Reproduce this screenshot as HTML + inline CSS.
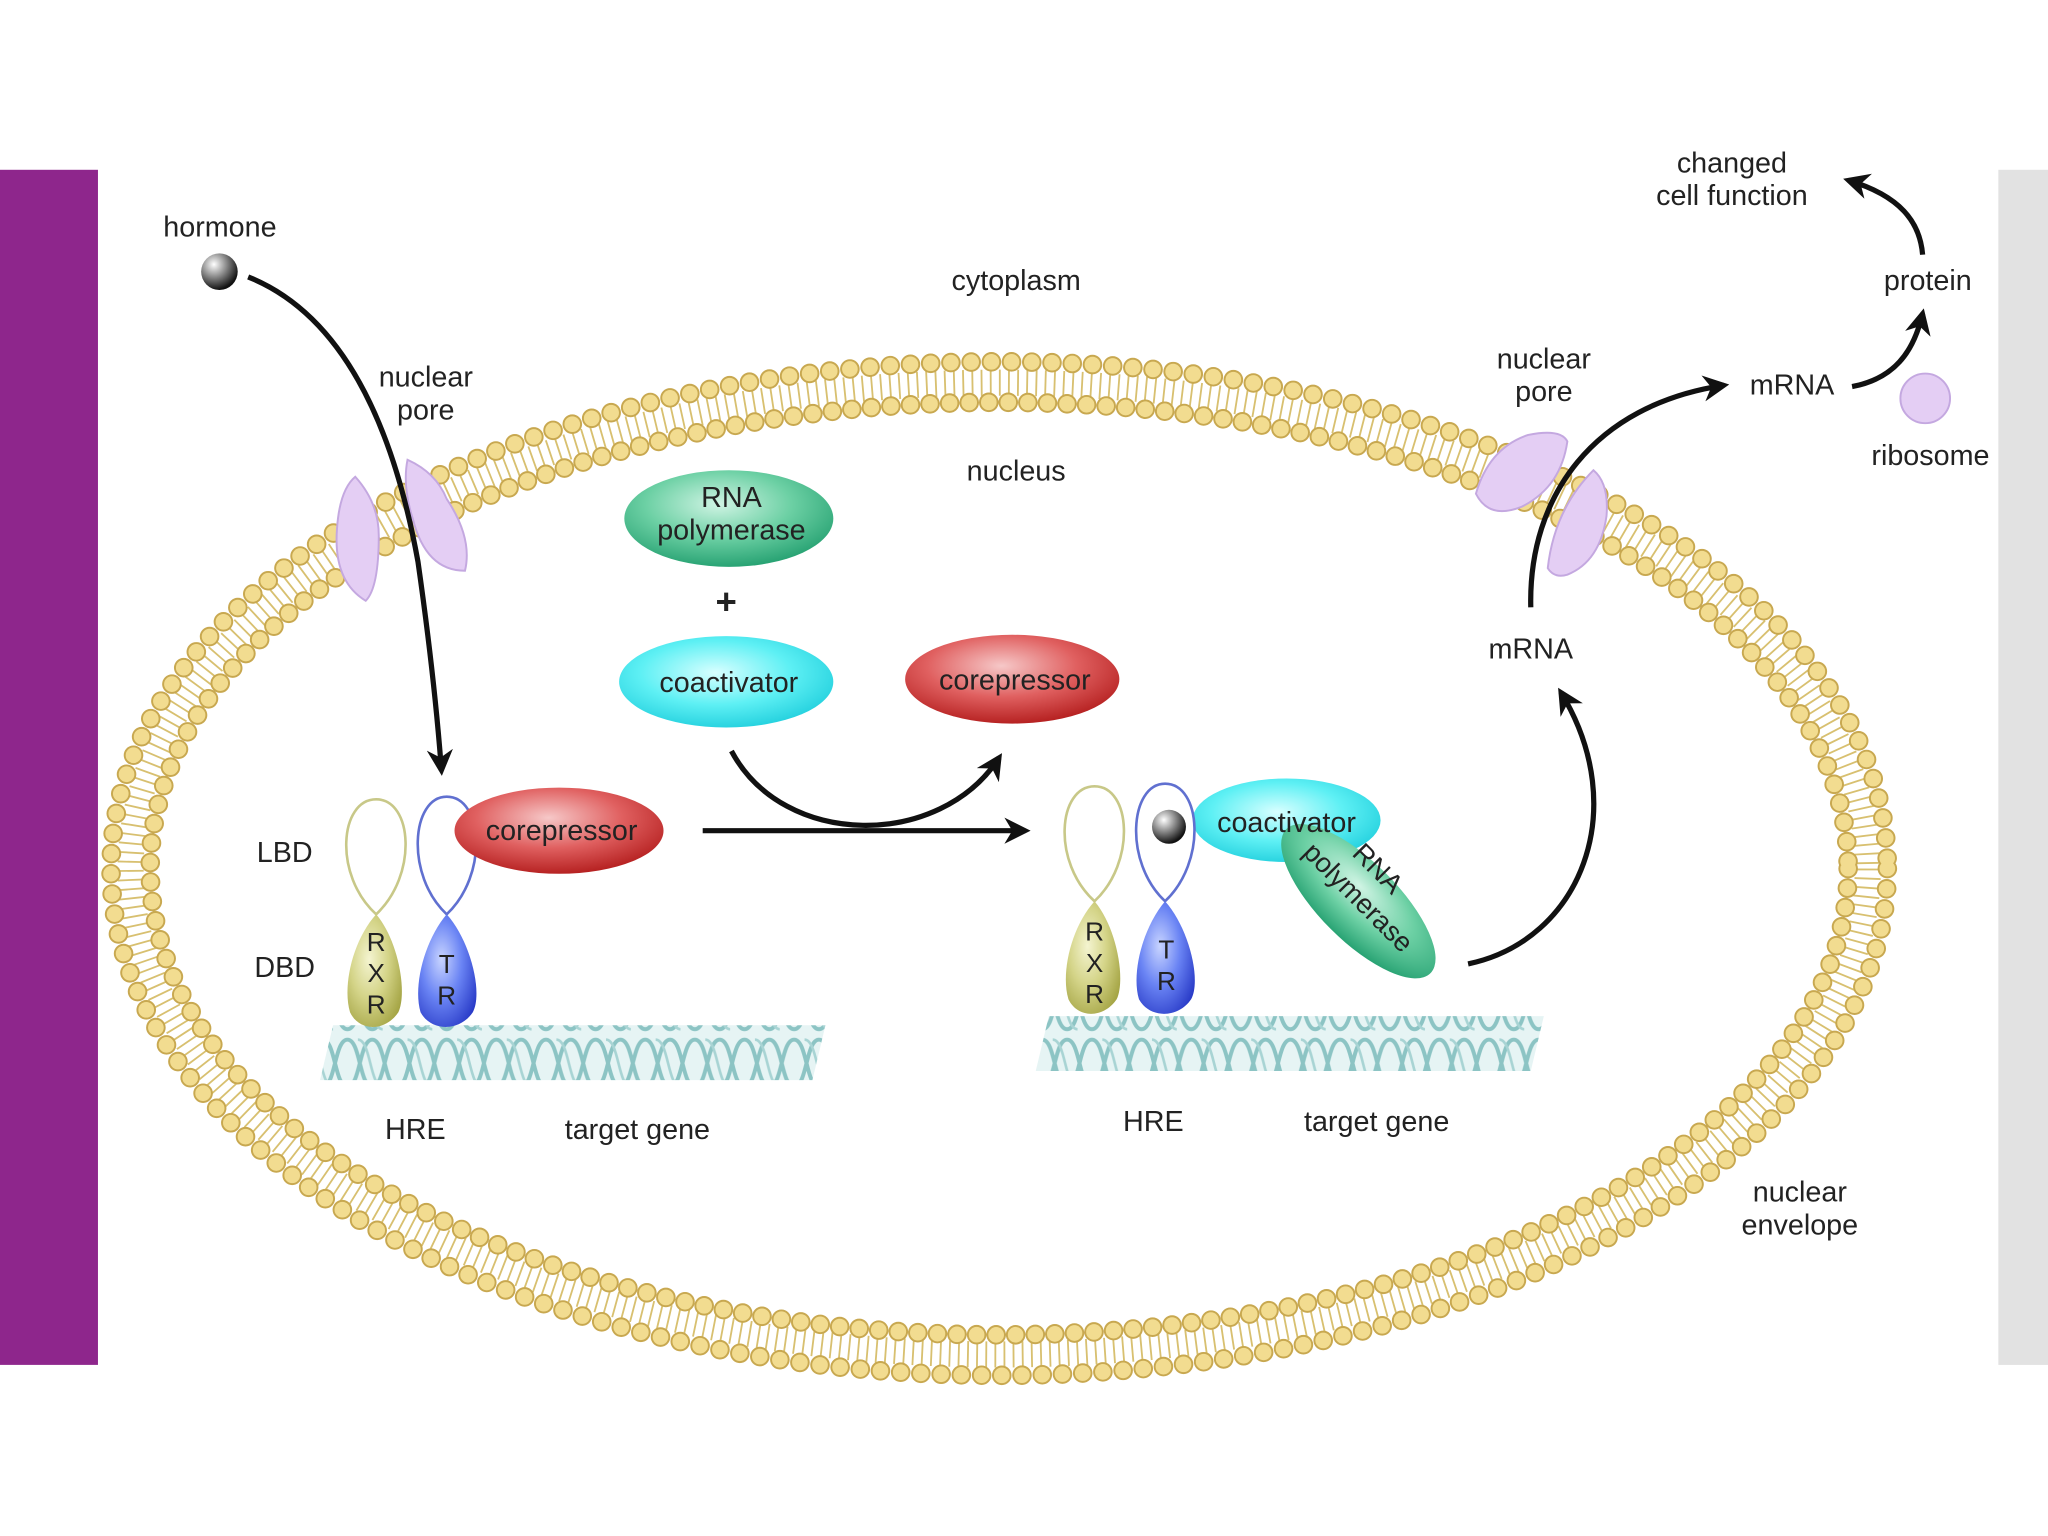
<!DOCTYPE html>
<html><head><meta charset="utf-8"><style>
html,body{margin:0;padding:0;background:#fff;}
svg{display:block;}
text{font-family:"Liberation Sans",sans-serif;fill:#222;}
</style></head><body>
<svg width="2048" height="1536" viewBox="0 0 1568 1176" xmlns="http://www.w3.org/2000/svg">
<defs>
<radialGradient id="gRed" cx="0.45" cy="0.35" r="0.7"><stop offset="0" stop-color="#f6c8c8"/><stop offset="0.5" stop-color="#e06060"/><stop offset="1" stop-color="#b01818"/></radialGradient>
<radialGradient id="gCyan" cx="0.45" cy="0.4" r="0.7"><stop offset="0" stop-color="#d8ffff"/><stop offset="0.5" stop-color="#5ef0f4"/><stop offset="1" stop-color="#14c8d8"/></radialGradient>
<radialGradient id="gGreen" cx="0.45" cy="0.35" r="0.7"><stop offset="0" stop-color="#d0f4e4"/><stop offset="0.5" stop-color="#6cd0a4"/><stop offset="1" stop-color="#1e9c6c"/></radialGradient>
<radialGradient id="gBlue" cx="0.4" cy="0.4" r="0.7"><stop offset="0" stop-color="#c8d4ff"/><stop offset="0.5" stop-color="#6a84f4"/><stop offset="1" stop-color="#2a3cc8"/></radialGradient>
<radialGradient id="gOlive" cx="0.4" cy="0.4" r="0.7"><stop offset="0" stop-color="#f4f4d0"/><stop offset="0.5" stop-color="#d4d488"/><stop offset="1" stop-color="#a4a444"/></radialGradient>
<radialGradient id="gBall" cx="0.35" cy="0.3" r="0.7"><stop offset="0" stop-color="#fff"/><stop offset="0.5" stop-color="#888"/><stop offset="1" stop-color="#111"/></radialGradient>
<marker id="ah" viewBox="0 0 10 10" refX="8" refY="5" markerWidth="5" markerHeight="5" orient="auto"><path d="M0,0 L10,5 L0,10 L3,5 z" fill="#111"/></marker>
<pattern id="dna" width="38" height="44" patternUnits="userSpaceOnUse" x="0" y="0">
<rect width="38" height="44" fill="#e6f4f4"/>
<path d="M0,4 C10,4 9,40 19,40 C29,40 28,4 38,4" fill="none" stroke="#8cc4c4" stroke-width="3"/>
<path d="M0,40 C10,40 9,4 19,4 C29,4 28,40 38,40" fill="none" stroke="#8cc4c4" stroke-width="3"/>
<path d="M8,4 C18,4 17,40 27,40" fill="none" stroke="#a8d4d4" stroke-width="2"/>
</pattern>
</defs>
<rect x="0" y="130" width="75" height="915" fill="#8e268c"/>
<rect x="1530" y="130" width="38" height="915" fill="#e2e2e2"/>

<g fill="none">
<ellipse cx="765" cy="665" rx="665" ry="372" stroke="#d8c070" stroke-width="20" stroke-dasharray="1.4 5.6"/>
<ellipse cx="765" cy="665" rx="680" ry="388" stroke="#c8a850" stroke-width="15" stroke-linecap="round" stroke-dasharray="0 15.5"/>
<ellipse cx="765" cy="665" rx="680" ry="388" stroke="#f2dc90" stroke-width="12" stroke-linecap="round" stroke-dasharray="0 15.5"/>
<ellipse cx="765" cy="665" rx="650" ry="357" stroke="#c8a850" stroke-width="15" stroke-linecap="round" stroke-dasharray="0 15"/>
<ellipse cx="765" cy="665" rx="650" ry="357" stroke="#f2dc90" stroke-width="12" stroke-linecap="round" stroke-dasharray="0 15"/>
</g>
<g fill="#e4cef4" stroke="#c4a8e0" stroke-width="1.5">
<path d="M272,365 q18,20 18,45 q0,40 -10,50 q-25,-15 -22,-55 q2,-30 14,-40z"/>
<path d="M312,352 q22,10 30,30 q20,30 14,55 q-30,0 -40,-40 q-8,-25 -4,-45z"/>
<path d="M1130,378 q10,-35 40,-45 q25,-5 30,5 q-5,35 -35,50 q-25,10 -35,-10z"/>
<path d="M1185,435 q5,-45 35,-75 q12,10 10,35 q-5,35 -30,45 q-10,3 -15,-5z"/>
</g>

<g font-size="22">
<text x="125" y="181">hormone</text>
<text x="326" y="296" text-anchor="middle">nuclear</text>
<text x="326" y="321" text-anchor="middle">pore</text>
<text x="778" y="222" text-anchor="middle">cytoplasm</text>
<text x="778" y="368" text-anchor="middle">nucleus</text>
<text x="1182" y="282" text-anchor="middle">nuclear</text>
<text x="1182" y="307" text-anchor="middle">pore</text>
<text x="1326" y="132" text-anchor="middle">changed</text>
<text x="1326" y="157" text-anchor="middle">cell function</text>
<text x="1476" y="222" text-anchor="middle">protein</text>
<text x="1372" y="302" text-anchor="middle">mRNA</text>
<text x="1478" y="356" text-anchor="middle">ribosome</text>
<text x="1172" y="504" text-anchor="middle">mRNA</text>
<text x="218" y="660" text-anchor="middle">LBD</text>
<text x="218" y="748" text-anchor="middle">DBD</text>
<text x="318" y="872" text-anchor="middle">HRE</text>
<text x="488" y="872" text-anchor="middle">target gene</text>
<text x="883" y="866" text-anchor="middle">HRE</text>
<text x="1054" y="866" text-anchor="middle">target gene</text>
<text x="1378" y="920" text-anchor="middle">nuclear</text>
<text x="1378" y="945" text-anchor="middle">envelope</text>
</g>

<circle cx="168" cy="208" r="14" fill="url(#gBall)"/>
<circle cx="1474" cy="305" r="19" fill="#e4cef4" stroke="#c4a8e0" stroke-width="1.5"/>

<g fill="none" stroke="#111" stroke-width="4">
<path d="M190,212 C260,240 300,320 320,430 C330,500 335,550 338,590" marker-end="url(#ah)"/>
<path d="M538,636 L785,636" marker-end="url(#ah)"/>
<path d="M560,575 C600,650 720,650 765,580" marker-end="url(#ah)"/>
<path d="M1124,738 C1210,720 1250,620 1195,530" marker-end="url(#ah)"/>
<path d="M1172,465 C1170,380 1220,310 1320,295" marker-end="url(#ah)"/>
<path d="M1418,296 C1450,290 1465,270 1472,240" marker-end="url(#ah)"/>
<path d="M1472,195 C1470,170 1455,150 1415,138" marker-end="url(#ah)"/>
</g>

<ellipse cx="558" cy="397" rx="80" ry="37" fill="url(#gGreen)"/>
<text x="560" y="388" font-size="22" text-anchor="middle">RNA</text>
<text x="560" y="413" font-size="22" text-anchor="middle">polymerase</text>
<text x="556" y="470" font-size="28" font-weight="bold" text-anchor="middle">+</text>
<ellipse cx="556" cy="522" rx="82" ry="35" fill="url(#gCyan)"/>
<text x="558" y="530" font-size="22" text-anchor="middle">coactivator</text>
<ellipse cx="775" cy="520" rx="82" ry="34" fill="url(#gRed)"/>
<text x="777" y="528" font-size="22" text-anchor="middle">corepressor</text>

<!-- DNA -->
<path d="M255,785 L632,785 L622,827 L245,827 Z" fill="url(#dna)"/>
<path d="M803,778 L1182,778 L1172,820 L793,820 Z" fill="url(#dna)"/>

<path d="M288,700 C255,670 260,612 288,612 C316,612 320,670 288,700z" fill="#fff" stroke="#c8c888" stroke-width="2"/>
<path d="M342,700 C310,670 315,610 342,610 C370,610 374,670 342,700z" fill="#fff" stroke="#6070d0" stroke-width="2"/>
<path d="M288,700 C305,720 312,760 305,775 C295,790 275,790 268,775 C262,755 270,720 288,700z" fill="url(#gOlive)"/>
<path d="M342,700 C360,720 370,760 362,775 C352,790 330,790 322,775 C316,755 325,720 342,700z" fill="url(#gBlue)"/>
<text x="288" y="728" font-size="20" text-anchor="middle">R</text>
<text x="288" y="752" font-size="20" text-anchor="middle">X</text>
<text x="288" y="776" font-size="20" text-anchor="middle">R</text>
<text x="342" y="745" font-size="20" text-anchor="middle">T</text>
<text x="342" y="769" font-size="20" text-anchor="middle">R</text>
<ellipse cx="428" cy="636" rx="80" ry="33" fill="url(#gRed)"/>
<text x="430" y="643" font-size="22" text-anchor="middle">corepressor</text>

<path d="M838,690 C805,660 810,602 838,602 C866,602 870,660 838,690z" fill="#fff" stroke="#c8c888" stroke-width="2"/>
<ellipse cx="985" cy="628" rx="72" ry="32" fill="url(#gCyan)"/>
<ellipse cx="1040" cy="690" rx="78" ry="30" transform="rotate(45 1040 690)" fill="url(#gGreen)"/>
<path d="M892,690 C860,660 865,600 892,600 C920,600 924,660 892,690z" fill="#fff" stroke="#6070d0" stroke-width="2"/>
<circle cx="895" cy="633" r="13" fill="url(#gBall)"/>
<text x="985" y="637" font-size="22" text-anchor="middle">coactivator</text>
<text transform="translate(1050,670) rotate(45)" font-size="21" text-anchor="middle">RNA</text>
<text transform="translate(1035,692) rotate(45)" font-size="21" text-anchor="middle">polymerase</text>
<path d="M838,690 C855,710 862,750 855,765 C845,780 825,780 818,765 C812,745 820,710 838,690z" fill="url(#gOlive)"/>
<path d="M892,690 C910,710 920,750 912,765 C902,780 880,780 872,765 C866,745 875,710 892,690z" fill="url(#gBlue)"/>
<text x="838" y="720" font-size="20" text-anchor="middle">R</text>
<text x="838" y="744" font-size="20" text-anchor="middle">X</text>
<text x="838" y="768" font-size="20" text-anchor="middle">R</text>
<text x="893" y="734" font-size="20" text-anchor="middle">T</text>
<text x="893" y="758" font-size="20" text-anchor="middle">R</text>
</svg>
</body></html>
